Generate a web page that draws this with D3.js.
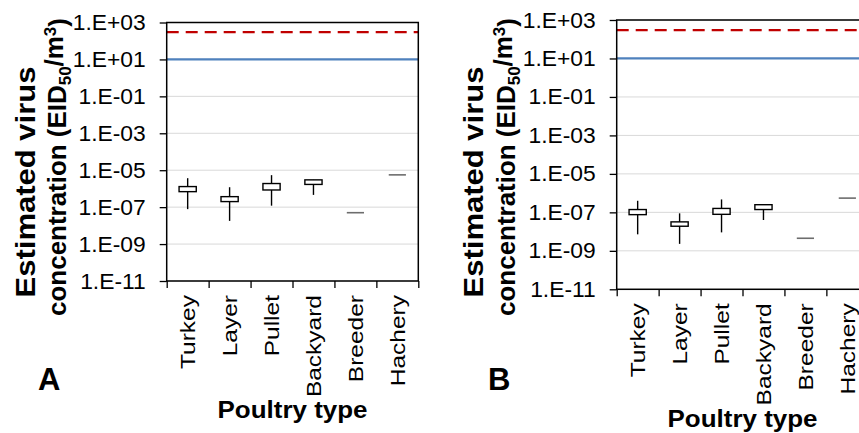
<!DOCTYPE html>
<html>
<head>
    <title>Estimated virus concentration</title>
    <script src="https://d3js.org/d3.v7.min.js"></script>
    <style>
        body { margin: 0; background: #fff; }
        text { font-family: "Liberation Sans", Arial, sans-serif; fill: #000; }
        .grid line { stroke: #d9d9d9; stroke-width: 1; }
    </style>
</head>
<body>
<div id="chart"></div>
<script>
    // Data
    const categories = ["Turkey", "Layer", "Pullet", "Backyard", "Breeder", "Hachery"];
    const yTicks = [1e3, 1e1, 1e-1, 1e-3, 1e-5, 1e-7, 1e-9, 1e-11];
    const thresholdRed = 300;   // dashed red line
    const thresholdBlue = 10;   // solid blue line

    // Panel A
    const aMin = [7.8e-8, 1.8e-8, 1.2e-7, 4.6e-7, 5.0e-8, 5.6e-6];
    const aQ1  = [6.9e-7, 2.0e-7, 8.5e-7, 1.7e-6, 5.0e-8, 5.6e-6];
    const aQ3  = [1.3e-6, 3.7e-7, 1.9e-6, 3.0e-6, 5.0e-8, 5.6e-6];
    const aMax = [3.7e-6, 1.2e-6, 5.4e-6, 3.0e-6, 5.0e-8, 5.6e-6];

    // Panel B
    const bMin = [7.2e-9, 2.3e-9, 9.1e-9, 4.0e-8, 4.5e-9, 5.5e-7];
    const bQ1  = [7.6e-8, 1.9e-8, 7.9e-8, 1.4e-7, 4.5e-9, 5.5e-7];
    const bQ3  = [1.4e-7, 3.2e-8, 1.6e-7, 2.5e-7, 4.5e-9, 5.5e-7];
    const bMax = [4.0e-7, 8.9e-8, 4.7e-7, 2.5e-7, 4.5e-9, 5.5e-7];

    const svg = d3.select("#chart").append("svg")
        .attr("width", 859)
        .attr("height", 433);

    const fmt = d => {
        const e = Math.round(Math.log10(d));
        return "1.E" + (e >= 0 ? "+" : "-") + String(Math.abs(e)).padStart(2, "0");
    };

    // the source font runs wider than Arial, so stretch text along its baseline
    function widen(sel, target, base) {
        const first = sel.node();
        const k = target / first.getComputedTextLength();
        sel.each(function () {
            const t = d3.select(this).attr("transform") || "";
            d3.select(this).attr("transform", t + " " + base + " scale(" + k + ",1)");
        });
    }

    function drawPanel(p) {
        const x = d3.scaleBand().domain(categories).range([p.left, p.right]);
        const y = d3.scaleLog().domain([1e-11, 1e3]).range([p.bottom, p.top]);
        const g = svg.append("g");

        // gridlines
        g.append("g").attr("class", "grid")
            .selectAll("line").data(yTicks).enter().append("line")
            .attr("x1", p.left).attr("x2", p.right)
            .attr("y1", d => y(d)).attr("y2", d => y(d));

        // threshold lines
        g.append("line")
            .attr("x1", p.left).attr("x2", p.right)
            .attr("y1", y(thresholdBlue)).attr("y2", y(thresholdBlue))
            .attr("stroke", "#4f81bd").attr("stroke-width", 2.2);
        g.append("line")
            .attr("x1", p.left).attr("x2", p.right)
            .attr("y1", y(thresholdRed)).attr("y2", y(thresholdRed))
            .attr("stroke", "#c00000").attr("stroke-width", 2.2)
            .attr("stroke-dasharray", "12,7");

        // boxes
        const rows = categories.map((c, i) => ({
            c: c, min: p.min[i], q1: p.q1[i], q3: p.q3[i], max: p.max[i]
        }));
        const bw = x.bandwidth() * 0.41;
        const cx = d => x(d.c) + x.bandwidth() / 2;

        const single = rows.filter(d => d.q1 === d.q3);
        const boxed = rows.filter(d => d.q1 !== d.q3);

        g.selectAll(".whisker").data(boxed).enter().append("line")
            .attr("x1", cx).attr("x2", cx)
            .attr("y1", d => y(d.max)).attr("y2", d => y(d.min))
            .attr("stroke", "#000").attr("stroke-width", 1.4);
        g.selectAll(".box").data(boxed).enter().append("rect")
            .attr("x", d => cx(d) - bw / 2)
            .attr("width", bw)
            .attr("y", d => y(d.q3))
            .attr("height", d => y(d.q1) - y(d.q3))
            .attr("fill", "#fff").attr("stroke", "#000").attr("stroke-width", 1.4);
        g.selectAll(".single").data(single).enter().append("line")
            .attr("x1", d => cx(d) - bw / 2).attr("x2", d => cx(d) + bw / 2)
            .attr("y1", d => y(d.q1)).attr("y2", d => y(d.q1))
            .attr("stroke", "#6d6d6d").attr("stroke-width", 1.6);

        // frame
        g.append("rect")
            .attr("x", p.left).attr("y", p.top)
            .attr("width", p.right - p.left).attr("height", p.bottom - p.top)
            .attr("fill", "none").attr("stroke", "#000").attr("stroke-width", 1.5);

        // y axis
        const ya = g.append("g")
            .attr("transform", "translate(" + p.left + ",0)")
            .call(d3.axisLeft(y).tickValues(yTicks).tickFormat(fmt).tickSize(7));
        ya.select(".domain").remove();
        ya.selectAll("line").attr("stroke", "#000").attr("stroke-width", 1.3);
        const yl = ya.selectAll("text").style("font-size", "22px").attr("x", 0);
        widen(yl, 73, "translate(-21,0)");

        // x axis: boundary ticks
        const xb = d3.scaleLinear().domain([0, categories.length]).range([p.left, p.right]);
        const xt = g.append("g")
            .attr("transform", "translate(0," + p.bottom + ")")
            .call(d3.axisBottom(xb).ticks(categories.length).tickFormat("").tickSize(7));
        xt.select(".domain").remove();
        xt.selectAll("line").attr("stroke", "#000").attr("stroke-width", 1.3);

        // x axis: category labels
        const xa = g.append("g")
            .attr("transform", "translate(0," + p.bottom + ")")
            .call(d3.axisBottom(x).tickSize(0));
        xa.select(".domain").remove();
        const xl = xa.selectAll("text")
            .style("font-size", "21px")
            .style("text-anchor", "end")
            .attr("transform", "rotate(-90)")
            .attr("x", 0).attr("y", 0).attr("dy", "0.36em");
        widen(xl, 74, "translate(-14,0)");

        // y axis title
        const t1 = g.append("text")
            .attr("transform", "translate(" + p.lab1 + ",182) rotate(-90)")
            .attr("text-anchor", "middle")
            .style("font-size", "28px").style("font-weight", "bold")
            .text("Estimated virus");
        widen(t1, 231, "");
        const t2 = g.append("text")
            .attr("transform", "translate(" + p.lab2 + ",167) rotate(-90)")
            .attr("text-anchor", "middle")
            .style("font-size", "26px").style("font-weight", "bold");
        t2.append("tspan").text("concentration (EID");
        t2.append("tspan").attr("dy", "0.3em").style("font-size", "17px").text("50");
        t2.append("tspan").attr("dy", "-0.3em").text("/m");
        t2.append("tspan").attr("dy", "-0.45em").style("font-size", "17px").text("3");
        t2.append("tspan").attr("dy", "0.45em").text(")");
        widen(t2, 298, "");

        // x axis title
        const xtTitle = g.append("text")
            .attr("transform", "translate(" + (p.left + p.right) / 2 + "," + p.xTitleY + ")")
            .attr("text-anchor", "middle")
            .style("font-size", "23px").style("font-weight", "bold")
            .text("Poultry type");
        widen(xtTitle, 150, "");

        // panel letter
        g.append("text")
            .attr("x", p.letterX).attr("y", 390)
            .style("font-size", "31px").style("font-weight", "bold")
            .text(p.letter);
    }

    drawPanel({
        left: 166.7, right: 418.3, top: 22.5, bottom: 281,
        min: aMin, q1: aQ1, q3: aQ3, max: aMax,
        lab1: 35, lab2: 66, xTitleY: 418, letter: "A", letterX: 38
    });
    drawPanel({
        left: 616.7, right: 868.3, top: 20, bottom: 289.3,
        min: bMin, q1: bQ1, q3: bQ3, max: bMax,
        lab1: 483, lab2: 515, xTitleY: 427, letter: "B", letterX: 488
    });
</script>
</body>
</html>
